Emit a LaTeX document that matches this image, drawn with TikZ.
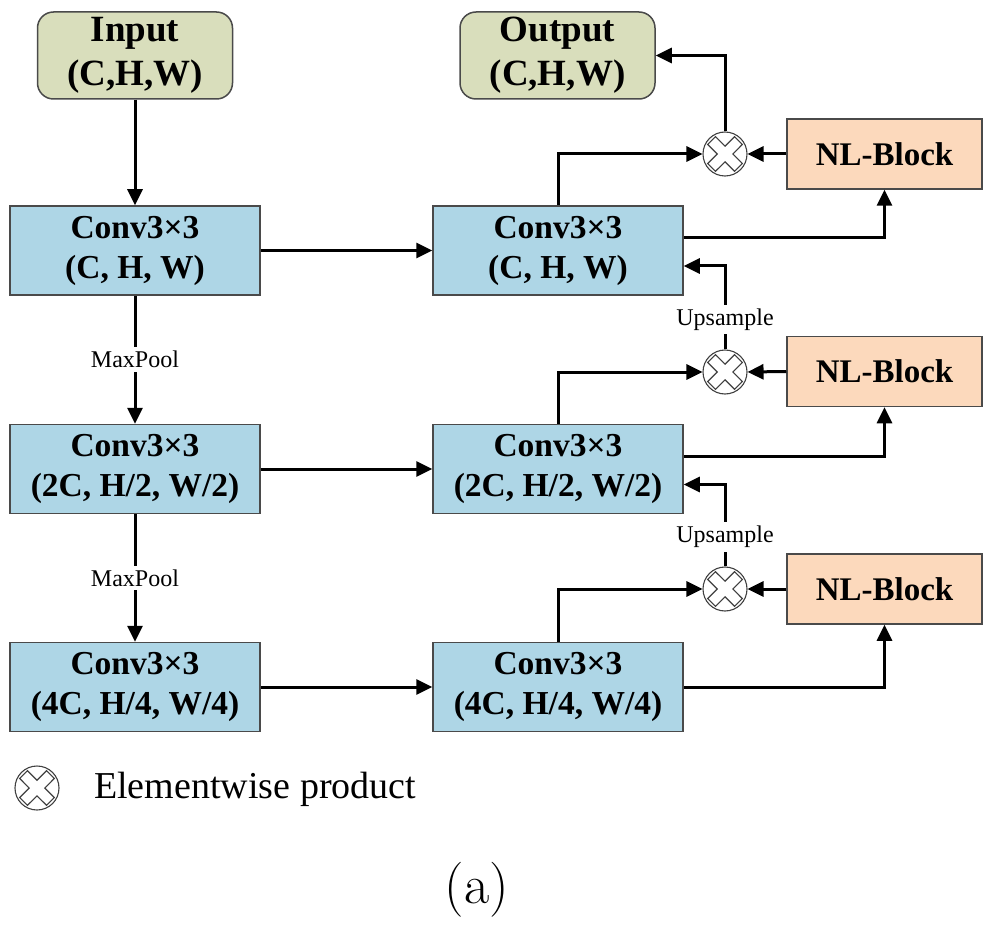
\documentclass[tikz,border=0pt]{standalone}
\usepackage{fontspec}
\newfontfamily\tnr{Liberation Serif}
\usetikzlibrary{arrows.meta,calc}
\definecolor{inbg}{HTML}{D9DEBC}
\definecolor{convbg}{HTML}{AED6E6}
\definecolor{nlbg}{HTML}{FCD9BC}
\definecolor{bord}{HTML}{4A4A4A}
\begin{document}
\begin{tikzpicture}[x=1pt,y=-1pt,
  io/.style={draw=bord, line width=1.5pt, fill=inbg, rounded corners=16pt, minimum width=195pt, minimum height=87pt, inner sep=0pt, align=center, font=\tnr\bfseries\fontsize{37}{44}\selectfont},
  conv/.style={draw=bord, line width=1.5pt, fill=convbg, minimum width=250pt, minimum height=89pt, inner sep=0pt, align=center, font=\tnr\bfseries\fontsize{33.5}{40}\selectfont},
  nl/.style={draw=bord, line width=1.5pt, fill=nlbg, minimum width=195pt, minimum height=70pt, inner sep=0pt, font=\tnr\bfseries\fontsize{33}{40}\selectfont},
  prod/.style={circle, draw=black!75, line width=1.1pt, minimum size=44pt, inner sep=0pt, fill=white,
    path picture={\draw[black!75, line width=1.1pt, shift={(path picture bounding box.center)}]
      (0,7.78) -- (-9.55,17.32) -- (-17.32,9.55) -- (-7.78,0) -- (-17.32,-9.55) -- (-9.55,-17.32) -- (0,-7.78) -- (9.55,-17.32) -- (17.32,-9.55) -- (7.78,0) -- (17.32,9.55) -- (9.55,17.32) -- cycle;}},
  arr/.style={line width=3pt, -{Triangle[length=16pt,width=15pt]}},
  lbl/.style={font=\tnr\fontsize{24}{28}\selectfont, fill=white, inner xsep=2pt, inner ysep=4pt}
]
\useasboundingbox (0,0) rectangle (994,936);

% input / output
\node[io] (in)  at (135,55.5) {Input\\(C,H,W)};
\node[io] (out) at (557.5,55.5) {Output\\(C,H,W)};

% encoder
\node[conv] (cl1) at (135,250.5) {Conv3×3\\(C, H, W)};
\node[conv] (cl2) at (135,469) {Conv3×3\\(2C, H/2, W/2)};
\node[conv] (cl3) at (135,687) {Conv3×3\\(4C, H/4, W/4)};

% decoder
\node[conv] (cr1) at (558,250.5) {Conv3×3\\(C, H, W)};
\node[conv] (cr2) at (558,469) {Conv3×3\\(2C, H/2, W/2)};
\node[conv] (cr3) at (558,687) {Conv3×3\\(4C, H/4, W/4)};

% NL blocks
\node[nl] (nl1) at (884.5,154) {NL-Block};
\node[nl] (nl2) at (884.5,371.5) {NL-Block};
\node[nl] (nl3) at (884.5,589) {NL-Block};

% products
\node[prod] (p1) at (725,154) {};
\node[prod] (p2) at (725,372) {};
\node[prod] (p3) at (725,589) {};

% encoder arrows
\draw[arr] (in.south) -- (cl1.north);
\draw[arr] (cl1.south) -- node[lbl] {MaxPool} (cl2.north);
\draw[arr] (cl2.south) -- node[lbl] {MaxPool} (cl3.north);

% skip arrows
\draw[arr] (cl1.east) -- (cr1.west);
\draw[arr] (cl2.east) -- (cr2.west);
\draw[arr] (cl3.east) -- (cr3.west);

% decoder to NL blocks
\draw[arr] ($(cr1.east)+(0,-13)$) -| (nl1.south);
\draw[arr] ($(cr2.east)+(0,-13)$) -| (nl2.south);
\draw[arr] (cr3.east) -| (nl3.south);

% decoder to products
\draw[arr] (cr1.north) |- (p1.west);
\draw[arr] (cr2.north) |- (p2.west);
\draw[arr] (cr3.north) |- (p3.west);

% NL to products
\draw[arr] (nl1.west) -- (p1.east);
\draw[arr] (nl2.west) -- (p2.east);
\draw[arr] (nl3.west) -- (p3.east);

% products upward
\draw[arr] (p1.north) |- (out.east);
\draw[arr] (p2.north) |- node[lbl, pos=0.18] {Upsample} ($(cr1.east)+(0,15.5)$);
\draw[arr] (p3.north) |- node[lbl, pos=0.18] {Upsample} ($(cr2.east)+(0,15.5)$);

% legend
\node[prod] (lg) at (37,788) {};
\node[anchor=west, font=\tnr\fontsize{38}{44}\selectfont, inner sep=0pt] (lgt) at (94,789) {Elementwise product};

% caption
\node[font=\fontsize{55}{60}\selectfont, inner sep=0pt] (cap) at (477,890) {(a)};
\end{tikzpicture}
\end{document}
